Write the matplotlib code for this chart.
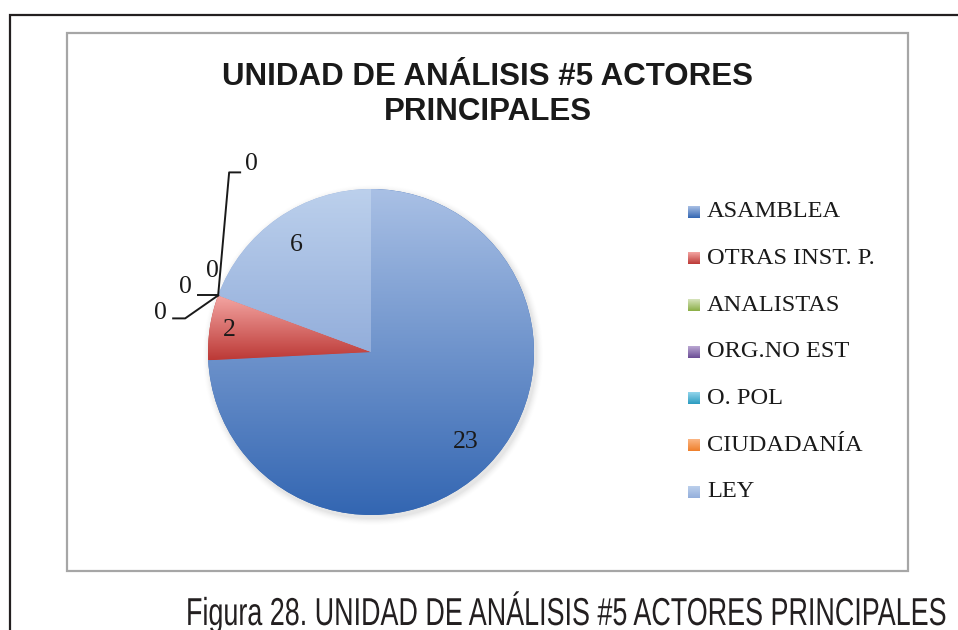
import numpy as np
import matplotlib
matplotlib.use("Agg")
import matplotlib.pyplot as plt
from matplotlib.colors import LinearSegmentedColormap
from matplotlib.patches import Rectangle, Circle
from matplotlib.patheffects import AbstractPathEffect
from matplotlib.transforms import Affine2D

# ---- data ----
categories = ["ASAMBLEA", "OTRAS INST. P.", "ANALISTAS", "ORG.NO EST", "O. POL", "CIUDADANÍA", "LEY"]
values = [23, 2, 0, 0, 0, 0, 6]
top_colors = ["#A9C0E5", "#F4A6A3", "#D7E4BD", "#BBA8D3", "#93D6EC", "#FBB684", "#BCD0EC"]
bottom_colors = ["#3366B2", "#BC3936", "#8AAE44", "#6A4C95", "#2B9BC0", "#EF7F2B", "#93AEDB"]
title_lines = ["UNIDAD DE ANÁLISIS #5 ACTORES", "PRINCIPALES"]
caption = "Figura 28. UNIDAD DE ANÁLISIS #5 ACTORES PRINCIPALES"

W, H = 958, 630
fig = plt.figure(figsize=(W / 100, H / 100), dpi=100)
ax = fig.add_axes([0, 0, 1, 1])


def Y(y):  # pixel-from-top to data
    return H - y


serif = ["Liberation Serif", "DejaVu Serif"]
sans = ["Liberation Sans", "DejaVu Sans"]
FS = 18.5
LFS = 17.6

# frames
ax.add_patch(Rectangle((10, Y(700)), 1000, 685, fill=False, ec="#231F20", lw=1.6, zorder=0))
ax.add_patch(Rectangle((67, Y(571)), 908 - 67, 571 - 33, fill=False, ec="#A6A6A6", lw=1.6, zorder=0))

# title
for yb, line in zip([85, 120], title_lines):
    ax.text(487.5, Y(yb), line, ha="center", va="baseline", fontsize=22.5, fontweight="bold",
            family=sans, color="#1A1A1A")

cx, cy, R = 371, Y(352), 163

# soft shadow
for i, a in enumerate(np.linspace(0.05, 0.012, 6)):
    ax.add_patch(Circle((cx + 2, cy - 3), R + 1 + i * 1.2, fc="#808080", ec="none", alpha=a, zorder=0.5))

wedges, _ = ax.pie(values, startangle=90, counterclock=False, center=(cx, cy), radius=R,
                   colors=bottom_colors, wedgeprops=dict(ec="none", lw=0), frame=True)

grad = np.linspace(0, 1, 256).reshape(-1, 1)
for w, v, tc, bc in zip(wedges, values, top_colors, bottom_colors):
    if v == 0:
        continue
    t = np.deg2rad(np.linspace(w.theta1, w.theta2, 200))
    xs = np.concatenate([[cx], cx + R * np.cos(t)])
    ys = np.concatenate([[cy], cy + R * np.sin(t)])
    cmap = LinearSegmentedColormap.from_list("g", [bc, tc])
    im = ax.imshow(grad, extent=[xs.min(), xs.max(), ys.min(), ys.max()], origin="lower",
                   cmap=cmap, aspect="auto", zorder=1.5, interpolation="bilinear")
    im.set_clip_path(w)

# value labels
for w, v in zip(wedges, values):
    if v == 0:
        continue
    ang = np.deg2rad((w.theta1 + w.theta2) / 2)
    d = 0.8 if v / sum(values) > 0.1 else 0.88
    ax.text(cx + d * R * np.cos(ang), cy + d * R * np.sin(ang), str(v), ha="center", va="center",
            fontsize=FS, family=serif, color="#1A1A1A", zorder=3)

# zero labels with leader lines (at the point where the zero slices sit)
zw = [w for w, v in zip(wedges, values) if v == 0]
ang = np.deg2rad(zw[0].theta1)
px, py = cx + R * np.cos(ang), cy + R * np.sin(ang)
lc = "#1A1A1A"
ax.plot([px, px - 33, px - 45], [py, py - 23, py - 23], color=lc, lw=1.4, zorder=3)
ax.text(px - 58, py - 18, "0", ha="center", va="center", fontsize=FS, family=serif, color=lc, zorder=3)
ax.plot([px, px - 20], [py, py], color=lc, lw=1.4, zorder=3)
ax.text(px - 33, py + 8, "0", ha="center", va="center", fontsize=FS, family=serif, color=lc, zorder=3)
ax.text(px - 6, py + 24, "0", ha="center", va="center", fontsize=FS, family=serif, color=lc, zorder=3)
ax.plot([px, px + 11, px + 22], [py, py + 123, py + 123], color=lc, lw=1.4, zorder=3)
ax.text(px + 33, py + 131, "0", ha="center", va="center", fontsize=FS, family=serif, color=lc, zorder=3)

# legend
row_y = 211.7
for i, (c, tc, bc) in enumerate(zip(categories, top_colors, bottom_colors)):
    yy = Y(row_y + i * 46.7)
    cm = LinearSegmentedColormap.from_list("l", [bc, tc])
    ax.imshow(grad, extent=[688, 700, yy - 6, yy + 6], origin="lower", cmap=cm,
              aspect="auto", zorder=2)
    ax.text(707, yy, c, ha="left", va="center", fontsize=LFS, family=serif, color="#1A1A1A")

ax.set_xlim(0, W)
ax.set_ylim(0, H)
ax.set_aspect("auto")
ax.axis("off")


# caption: Arial Narrow look, horizontally condensed real text
class HScale(AbstractPathEffect):
    def __init__(self, sx, x0):
        super().__init__()
        self.sx, self.x0 = sx, x0

    def draw_path(self, renderer, gc, tpath, affine, rgbFace=None):
        t = affine + Affine2D().translate(-self.x0, 0).scale(self.sx, 1).translate(self.x0, 0)
        renderer.draw_path(gc, tpath, t, rgbFace)


cap = ax.text(566, Y(625), caption, ha="center", va="baseline", fontsize=28,
              family=sans, color="#231F20")
fig.canvas.draw()
bb = cap.get_window_extent()
sx = 760.0 / bb.width
x0 = ax.transData.transform((566, 0))[0]
cap.set_path_effects([HScale(sx, x0)])

fig.savefig("out.png", dpi=100)
